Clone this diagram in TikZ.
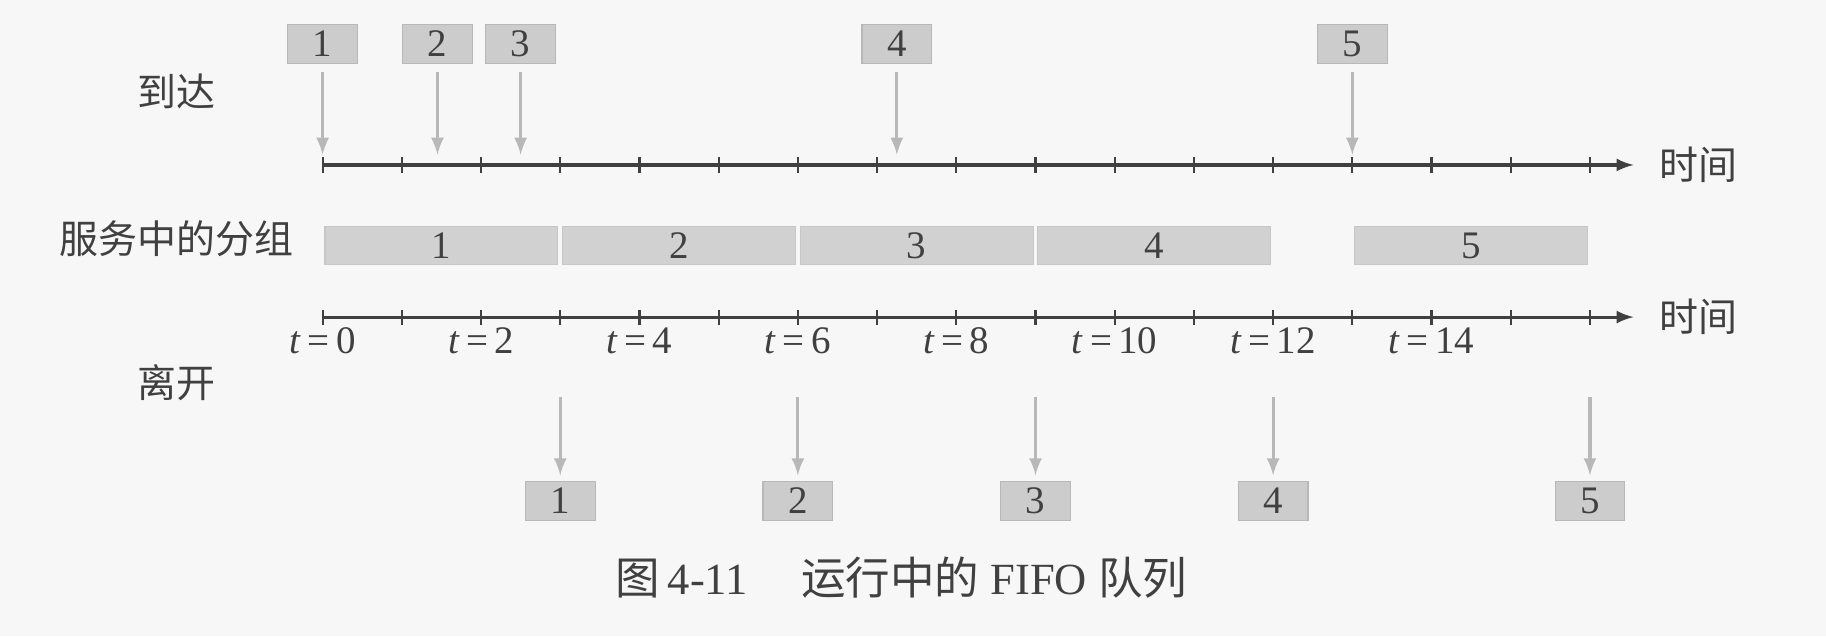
\documentclass[tikz,border=0pt]{standalone}
\usepackage{fontspec}
\setmainfont{Liberation Serif}
\newfontfamily\cjk{Noto Sans CJK SC}
\usetikzlibrary{arrows,positioning}

\begin{document}
\begin{tikzpicture}[every node/.style={font=\fontsize{14}{16}\selectfont, text=black!75},
	pkt/.style={fill=black!20, draw=black!28, minimum width=0.88cm, minimum height=0.49cm, inner sep=0pt},
	bar/.style={fill=black!18, draw=black!22, minimum width=2.94cm, minimum height=0.48cm, inner sep=0pt},
	flow/.style={black!28, line width=1.1pt, -latex},
	axis/.style={black!75, line width=1.1pt, -latex},
	tick/.style={black!75, line width=0.8pt}]
	\useasboundingbox[fill=black!3] (-4.073,-5.947) rectangle (18.98,2.083);
	% arrivals
	\foreach \n/\t in {1/0,2/1.45,3/2.5,4/7.25,5/13} {
		\node [pkt] (a\n) at (\t,1.53) {\n};
		\coordinate (ta\n) at (\t,0.13);
		\draw [flow, shorten <=3pt] (a\n) -- (ta\n);
	}
	% the two time axes
	\foreach \ax/\y in {top/0,bot/-1.92} {
		\coordinate (\ax0) at (0,\y);
		\coordinate (\ax1) at (16.55,\y);
		\draw [axis] (\ax0) -- (\ax1);
		\foreach \x in {0,...,16}
		\draw [tick] (\x,\y-0.095) -- (\x,\y+0.095);
		\node [right=0.2cm of \ax1] (time\ax) {\cjk 时间};
	}
	\foreach \x in {0,2,...,14}
	\node (lab\x) at (\x,-2.22) {\textit{t}\,=\,\x};
	% packets in service
	\foreach \n/\s in {1/0,2/3,3/6,4/9,5/13}
	\node [bar] (s\n) at (\s+1.5,-1.02) {\n};
	% departures
	\foreach \n/\t in {1/3,2/6,3/9,4/12,5/16} {
		\coordinate (td\n) at (\t,-2.93);
		\node [pkt] (d\n) at (\t,-4.24) {\n};
		\draw [flow, shorten >=2pt] (td\n) -- (d\n);
	}
	\node (arr) at (-1.84,0.93) {\cjk 到达};
	\node (srv) at (-1.84,-0.93) {\cjk 服务中的分组};
	\node (dep) at (-1.84,-2.75) {\cjk 离开};
	\node [font=\fontsize{16}{18}\selectfont] (cap) at (7.31,-5.21) {{\cjk 图}\,4-11\hspace{1.2em}{\cjk 运行中的} FIFO {\cjk 队列}};
\end{tikzpicture}
\end{document}
